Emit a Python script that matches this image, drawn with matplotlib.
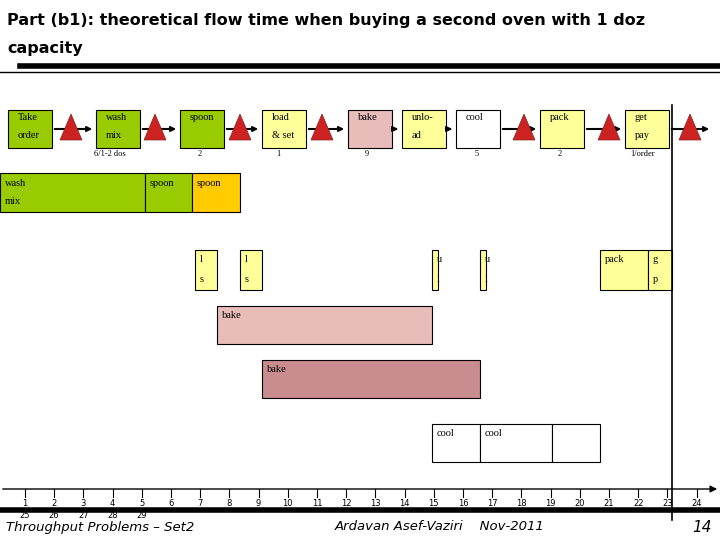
import matplotlib
matplotlib.use("Agg")
import matplotlib.pyplot as plt
from matplotlib.patches import Rectangle, Polygon

# process flow boxes: label, x-left(px), fill
flow_labels = [("Take", "order"), ("wash", "mix"), ("spoon", ""), ("load", "& set"), ("bake", ""),
               ("unlo-", "ad"), ("cool", ""), ("pack", ""), ("get", "pay")]
flow_x = [8, 96, 180, 262, 348, 402, 456, 540, 625]
flow_col = ["#99cc00", "#99cc00", "#99cc00", "#ffff99", "#e8bcb8", "#ffff99", "#ffffff", "#ffff99", "#ffff99"]
tri_x = [71, 155, 240, 322, 524, 609, 690]
cap_labels = ["6/1-2 dos", "2", "1", "9", "5", "2", "1/order"]
cap_x = [110, 200, 278, 367, 477, 560, 643]

# gantt bars: (start time, end time, top px, bottom px, fill, labels)
bars = [
    (0.144, 5.11, 173, 212, "#99cc00", ("wash", "mix")),
    (5.11, 6.72, 173, 212, "#99cc00", ("spoon", "")),
    (6.72, 8.36, 173, 212, "#ffcc00", ("spoon", "")),
    (6.82, 7.57, 250, 290, "#ffff99", ("l", "s")),
    (8.36, 9.12, 250, 290, "#ffff99", ("l", "s")),
    (14.94, 15.14, 250, 290, "#ffff99", ("u", "l")),
    (16.58, 16.78, 250, 290, "#ffff99", ("u", "l")),
    (20.69, 22.33, 250, 290, "#ffff99", ("pack", "")),
    (22.33, 23.15, 250, 290, "#ffff99", ("g", "p")),
    (7.57, 14.94, 306, 344, "#e8bcb8", ("bake", "")),
    (9.12, 16.58, 360, 398, "#c98d90", ("bake", "")),
    (14.94, 16.58, 424, 462, "#ffffff", ("cool", "")),
    (16.58, 19.05, 424, 462, "#ffffff", ("cool", "")),
    (19.05, 20.69, 424, 462, "#ffffff", ("", "")),
]
ticks = list(range(1, 25))
ticks2 = [25, 26, 27, 28, 29]

fig = plt.figure(figsize=(7.2, 5.4), dpi=100)
ax = fig.add_axes([0, 0, 1, 1])
ax.set_xlim(0.144, 24.8)
ax.set_ylim(540, 0)
ax.axis("off")
px = (24.8 - 0.144) / 720.0  # time units per pixel

def X(p):
    return 0.144 + p * px

serif = "Liberation Serif"
cond = "DejaVu Sans"
ax.text(X(7), 20, "Part (b1): theoretical flow time when buying a second oven with 1 doz",
        fontsize=11.5, fontweight="bold", family=cond, va="center")
ax.text(X(7), 48, "capacity", fontsize=11.5, fontweight="bold", family=cond, va="center")
ax.plot([X(20), 24.8], [66, 66], color="black", lw=4)
ax.plot([0.144, 24.8], [72, 72], color="black", lw=1)

for (l1, l2), x, c in zip(flow_labels, flow_x, flow_col):
    ax.add_patch(Rectangle((X(x), 110), 44 * px, 38, facecolor=c, edgecolor="black", lw=0.8))
    ax.text(X(x + 10), 118, l1, fontsize=7.5, family=serif, va="center")
    ax.text(X(x + 10), 136, l2, fontsize=7.5, family=serif, va="center")
for i in range(len(flow_x) - 1):
    ax.annotate("", xy=(X(flow_x[i + 1] - 1), 129), xytext=(X(flow_x[i] + 44), 129),
                arrowprops=dict(arrowstyle="-|>", color="black", lw=1.5, mutation_scale=7))
ax.annotate("", xy=(X(712), 129), xytext=(X(669), 129),
            arrowprops=dict(arrowstyle="-|>", color="black", lw=1.5, mutation_scale=7))
for t in tri_x:
    ax.add_patch(Polygon([(X(t - 11), 140), (X(t + 11), 140), (X(t), 114)],
                         facecolor="#cc2222", edgecolor="#882222", lw=0.5, zorder=3))
for s, x in zip(cap_labels, cap_x):
    ax.text(X(x), 154, s, fontsize=6, family=serif, ha="center", va="center")

for s, e, top, bot, c, (l1, l2) in bars:
    ax.add_patch(Rectangle((s, top), e - s, bot - top, facecolor=c, edgecolor="black", lw=0.8))
    ax.text(s + 5 * px, top + 10, l1, fontsize=7.5, family=serif, va="center")
    ax.text(s + 5 * px, top + 29, l2, fontsize=7.5, family=serif, va="center")

ax.plot([X(672), X(672)], [105, 520], color="black", lw=1.2)
ax.annotate("", xy=(24.8, 489), xytext=(0.144, 489),
            arrowprops=dict(arrowstyle="-|>", color="black", lw=1, mutation_scale=10))
for t in ticks:
    ax.plot([t, t], [489, 497], color="black", lw=0.8)
    ax.text(t, 504, str(t), fontsize=6, family=cond, ha="center", va="center")
for i, t in enumerate(ticks2):
    ax.text(ticks[i], 516, str(t), fontsize=6, family=cond, ha="center", va="center")
ax.plot([0.144, 24.8], [510, 510], color="black", lw=4)
ax.text(X(6), 527, "Throughput Problems \u2013 Set2", fontsize=9.5, style="italic", family=cond, va="center")
ax.text(X(335), 527, "Ardavan Asef-Vaziri    Nov-2011", fontsize=9.5, style="italic", family=cond, va="center")
ax.text(X(712), 528, "14", fontsize=11, style="italic", family=cond, ha="right", va="center")
fig.savefig("out.png", dpi=100)
